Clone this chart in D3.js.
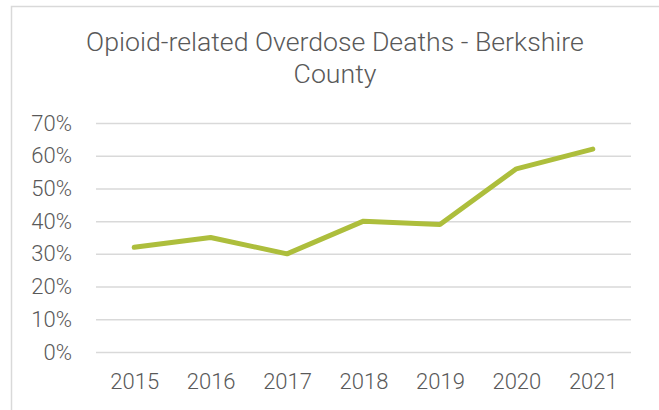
<!DOCTYPE html>
<html>
<head>
<meta charset="utf-8">
<script src="https://cdn.jsdelivr.net/npm/d3@7"></script>
<style>
  body { margin: 0; background: #fff; }
  svg text { font-family: Roboto, "Open Sans", sans-serif; fill: #595959; }
</style>
</head>
<body>
<div id="chart"></div>
<script>
// data
var years = ["2015", "2016", "2017", "2018", "2019", "2020", "2021"];
var deathShare = [0.32, 0.35, 0.30, 0.40, 0.39, 0.56, 0.62];
var yTicks = [0, 0.1, 0.2, 0.3, 0.4, 0.5, 0.6, 0.7];
var titleLines = ["Opioid-related Overdose Deaths - Berkshire", "County"];

var W = 659, H = 410;
var plot = {left: 96, right: 631, top: 123, bottom: 352};

var svg = d3.select("#chart").append("svg")
    .attr("width", W)
    .attr("height", H);

// chart area border (cropped at right/bottom in the original)
svg.append("rect")
    .attr("x", 11.5).attr("y", 6.5)
    .attr("width", 800).attr("height", 600)
    .attr("fill", "none")
    .attr("stroke", "#d9d9d9")
    .attr("stroke-width", 1.5);

// title, two lines
svg.append("g").selectAll("text")
    .data(titleLines)
    .enter().append("text")
    .attr("x", 335)
    .attr("y", function(d, i) { return 51 + i * 32; })
    .attr("text-anchor", "middle")
    .attr("font-size", "26.7px")
    .attr("font-weight", 300)
    .text(function(d) { return d; });

var x = d3.scalePoint()
    .domain(years)
    .range([plot.left, plot.right])
    .padding(0.5);

var y = d3.scaleLinear()
    .domain([0, 0.7])
    .range([plot.bottom, plot.top]);

// gridlines
svg.append("g")
    .attr("transform", "translate(" + plot.left + ",0)")
    .call(d3.axisLeft(y).tickValues(yTicks).tickSize(-(plot.right - plot.left)).tickFormat(""))
    .call(function(g) { g.select(".domain").remove(); })
    .call(function(g) {
        g.selectAll(".tick line").attr("stroke", "#d9d9d9").attr("stroke-width", 1.5);
    });

// y labels
svg.append("g")
    .attr("transform", "translate(" + plot.left + ",0)")
    .call(d3.axisLeft(y).tickValues(yTicks).tickSize(0).tickPadding(24).tickFormat(d3.format(".0%")))
    .call(function(g) { g.select(".domain").remove(); })
    .call(function(g) {
        g.selectAll("text").attr("font-size", "22px").attr("font-weight", 300)
            .attr("fill", "#595959").attr("font-family", "Roboto, sans-serif");
    });

// x labels
svg.append("g")
    .attr("transform", "translate(0," + plot.bottom + ")")
    .call(d3.axisBottom(x).tickSize(0).tickPadding(21))
    .call(function(g) { g.select(".domain").remove(); })
    .call(function(g) {
        g.selectAll("text").attr("font-size", "22px").attr("font-weight", 300)
            .attr("fill", "#595959").attr("font-family", "Roboto, sans-serif");
    });

// the line
var line = d3.line()
    .x(function(d, i) { return x(years[i]); })
    .y(function(d) { return y(d); });

svg.append("path")
    .datum(deathShare)
    .attr("d", line)
    .attr("fill", "none")
    .attr("stroke", "#adbe3c")
    .attr("stroke-width", 5)
    .attr("stroke-linecap", "round")
    .attr("stroke-linejoin", "round");
</script>
</body>
</html>
